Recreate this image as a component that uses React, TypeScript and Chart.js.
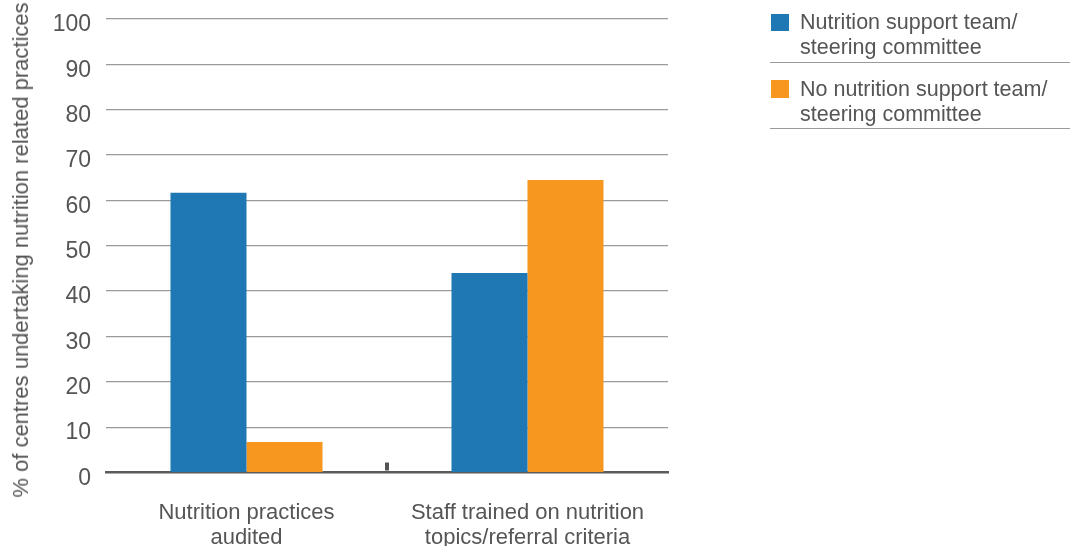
import React, { useEffect, useRef } from "react";
import { Chart, registerables } from "chart.js";

Chart.register(...registerables);

// Categories (multi-line labels) and the two series, in percent
const categories: string[][] = [
  ["Nutrition practices", "audited"],
  ["Staff trained on nutrition", "topics/referral criteria"],
];
const withTeam: number[] = [61.7, 44.0];
const withoutTeam: number[] = [6.7, 64.5];
const seriesLabels: string[][] = [
  ["Nutrition support team/", "steering committee"],
  ["No nutrition support team/", "steering committee"],
];
const seriesColors: string[] = ["#1F78B4", "#F7971F"];
const yTitle = "% of centres undertaking nutrition related practices";

const FONT = "'Liberation Sans', Arial, Helvetica, sans-serif";
const TEXT = "#555555";

// Small separator mark sitting on the axis between the two category groups
const dividerMark = {
  id: "dividerMark",
  afterDatasetsDraw(chart: any) {
    const x = chart.scales.x;
    const y = chart.scales.y;
    const px = x.getPixelForValue(0.5);
    const ctx = chart.ctx;
    ctx.save();
    ctx.fillStyle = "#555555";
    ctx.fillRect(px - 2, y.bottom - 10, 4, 8);
    ctx.restore();
  },
};

export default function App() {
  const canvasRef = useRef<HTMLCanvasElement | null>(null);

  useEffect(() => {
    if (!canvasRef.current) return;
    const chart = new Chart(canvasRef.current, {
      type: "bar",
      data: {
        labels: categories,
        datasets: [
          {
            label: seriesLabels[0].join(" "),
            data: withTeam,
            backgroundColor: seriesColors[0],
            borderWidth: 0,
          },
          {
            label: seriesLabels[1].join(" "),
            data: withoutTeam,
            backgroundColor: seriesColors[1],
            borderWidth: 0,
          },
        ],
      },
      options: {
        animation: false,
        responsive: true,
        maintainAspectRatio: false,
        datasets: {
          bar: { categoryPercentage: 0.541, barPercentage: 1 },
        },
        layout: { padding: { top: 19, right: 402, left: 0, bottom: 0 } },
        plugins: {
          legend: { display: false },
          tooltip: { enabled: false },
        },
        scales: {
          x: {
            offset: true,
            grid: { display: false, drawTicks: false },
            border: { display: true, color: "#5a5a5a", width: 2.5 },
            ticks: {
              color: TEXT,
              padding: 28,
              maxRotation: 0,
              autoSkip: false,
              font: { family: FONT, size: 22, lineHeight: 1.14 },
            },
            afterFit(scale: any) {
              scale.height = 73.5;
            },
          },
          y: {
            min: 0,
            max: 100,
            border: { display: false },
            grid: {
              drawTicks: false,
              lineWidth: 1.2,
              color: (ctx: any) =>
                ctx.tick && ctx.tick.value === 0 ? "rgba(0,0,0,0)" : "#9a9a9a",
            },
            ticks: {
              stepSize: 10,
              color: TEXT,
              padding: 15,
              labelOffset: 6,
              font: { family: FONT, size: 23 },
            },
            afterFit(scale: any) {
              scale.width = 106;
              scale.paddingTop = 0;
              scale.paddingBottom = 0;
            },
          },
        },
      },
      plugins: [dividerMark],
    });
    return () => chart.destroy();
  }, []);

  return (
    <div
      style={{
        position: "fixed",
        left: 0,
        top: 0,
        width: 1070,
        height: 546,
        background: "#ffffff",
        fontFamily: FONT,
      }}
    >
      <div style={{ position: "absolute", left: 0, top: 0, width: 1070, height: 546 }}>
        <canvas ref={canvasRef} />
      </div>
      {/* rotated y-axis title */}
      <div style={{ position: "absolute", left: 21, top: 250, width: 0, height: 0 }}>
        <div
          style={{
            position: "absolute",
            left: 0,
            top: 0,
            whiteSpace: "nowrap",
            color: TEXT,
            fontSize: 22,
            lineHeight: "26px",
            transform: "translate(-50%, -50%) rotate(-90deg)",
          }}
        >
          {yTitle}
        </div>
      </div>
      <div style={{ position: "absolute", left: 770, top: 0, width: 300 }}>
        {seriesLabels.map((lines, i) => (
          <div
            key={i}
            style={{
              position: "relative",
              paddingTop: i === 0 ? 10 : 14,
              paddingBottom: i === 0 ? 2 : 1,
              paddingLeft: 30,
              borderBottom: "1.3px solid #9a9a9a",
              color: TEXT,
              fontSize: 21.5,
              lineHeight: "25px",
            }}
          >
            <span
              style={{
                position: "absolute",
                left: 1,
                top: i === 0 ? 13.5 : 17,
                width: 18,
                height: 17.5,
                background: seriesColors[i],
              }}
            />
            {lines.map((t, j) => (
              <div key={j}>{t}</div>
            ))}
          </div>
        ))}
      </div>
    </div>
  );
}
